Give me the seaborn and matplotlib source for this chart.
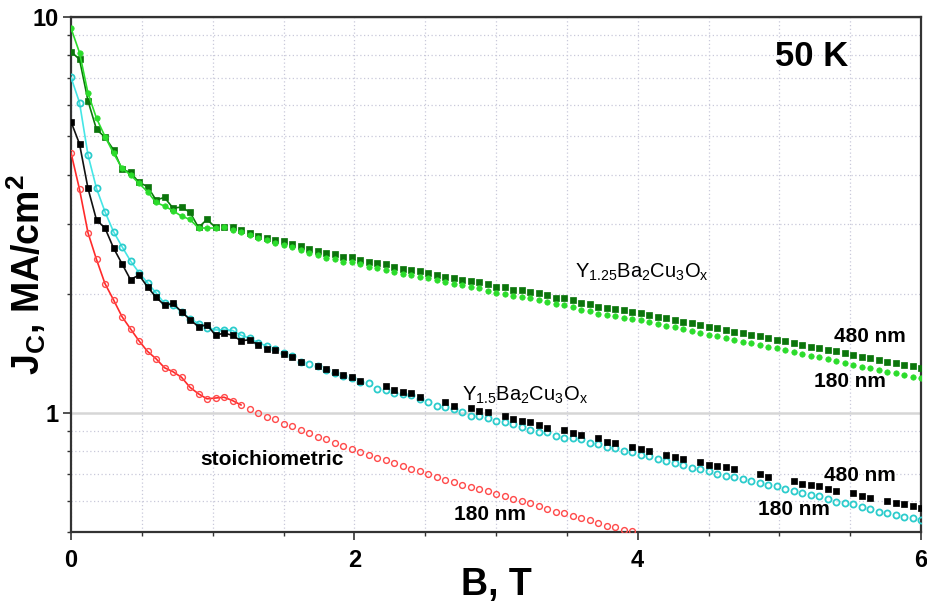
import numpy as np
import matplotlib
matplotlib.use("Agg")
import matplotlib.pyplot as plt
from matplotlib.ticker import NullFormatter
import seaborn as sns

plt.rcParams["font.family"] = ["Liberation Sans", "DejaVu Sans"]
plt.rcParams["mathtext.fontset"] = "custom"
plt.rcParams["mathtext.rm"] = "Liberation Sans"
plt.rcParams["mathtext.bf"] = "Liberation Sans:bold"
plt.rcParams["mathtext.it"] = "Liberation Sans:italic"

# field sweep (T), one reading every 0.06 T
field = np.round(np.arange(101) * 0.06, 2)

# Jc (MA/cm2) at 50 K
y125_480 = [8.17, 7.82, 6.14, 5.20, 4.97, 4.62, 4.12, 4.05, 3.82, 3.73,
            3.45, 3.50, 3.29, 3.31, 3.21, 2.94, 3.08, 2.94, 2.95, 2.94,
            2.90, 2.85, 2.79, 2.77, 2.73, 2.71, 2.67, 2.645, 2.59, 2.57,
            2.53, 2.52, 2.48, 2.47, 2.435, 2.41, 2.39, 2.37, 2.34, 2.31,
            2.30, 2.28, 2.26, 2.23, 2.21, 2.195, 2.17, 2.155, 2.14, 2.11,
            2.08, 2.075, 2.045, 2.04, 2.025, 2.005, 1.98, 1.955, 1.95, 1.93,
            1.89, 1.88, 1.856, 1.84, 1.83, 1.815, 1.80, 1.787, 1.77, 1.75,
            1.735, 1.72, 1.70, 1.685, 1.67, 1.65, 1.64, 1.62, 1.605, 1.59,
            1.575, 1.56, 1.545, 1.53, 1.515, 1.50, 1.485, 1.47, 1.455, 1.44,
            1.43, 1.415, 1.40, 1.385, 1.375, 1.36, 1.345, 1.335, 1.32, 1.31, 1.30]

y125_180 = [9.37, 8.13, 6.42, 5.55, 4.99, 4.53, 4.15, 3.99, 3.80, 3.62,
            3.40, 3.33, 3.24, 3.14, 3.08, 2.93, 2.93, 2.93, 2.94, 2.90,
            2.86, 2.82, 2.77, 2.73, 2.69, 2.66, 2.62, 2.58, 2.53, 2.51,
            2.46, 2.45, 2.41, 2.40, 2.37, 2.34, 2.32, 2.30, 2.27, 2.24,
            2.23, 2.21, 2.19, 2.16, 2.14, 2.12, 2.10, 2.08, 2.065, 2.035,
            2.005, 2.00, 1.97, 1.96, 1.95, 1.93, 1.90, 1.88, 1.87, 1.85,
            1.815, 1.805, 1.78, 1.765, 1.757, 1.74, 1.726, 1.712, 1.696, 1.675,
            1.66, 1.644, 1.625, 1.609, 1.595, 1.574, 1.565, 1.544, 1.53, 1.514,
            1.50, 1.484, 1.47, 1.454, 1.44, 1.424, 1.41, 1.394, 1.38, 1.364,
            1.354, 1.339, 1.324, 1.309, 1.30, 1.284, 1.27, 1.26, 1.245, 1.235, 1.226]

nan = np.nan
y15_480 = [5.44, 4.78, 3.69, 3.07, 2.93, 2.61, 2.38, 2.17, 2.23, 2.08,
           1.96, 1.87, 1.89, 1.80, 1.72, 1.65, 1.67, 1.57, 1.59, 1.57,
           1.52, 1.53, 1.485, 1.45, 1.44, 1.41, 1.38, 1.348, nan, 1.314,
           1.289, 1.267, 1.247, 1.235, 1.206, nan, nan, 1.170, 1.143, 1.132,
           1.125, 1.099, nan, nan, 1.064, 1.043, nan, 1.028, 1.013, 1.004,
           nan, 0.979, 0.964, 0.954, 0.947, 0.933, 0.915, nan, 0.906, 0.889,
           0.880, nan, 0.863, 0.843, 0.838, nan, 0.820, 0.811, 0.802, nan,
           0.783, 0.773, 0.764, nan, 0.753, 0.739, 0.732, 0.729, 0.722, nan,
           nan, 0.700, 0.688, nan, nan, 0.671, 0.661, 0.656, 0.652, 0.642,
           0.633, nan, 0.627, 0.615, 0.609, nan, 0.600, 0.592, 0.589, 0.583, 0.575]

y15_180 = [7.04, 6.08, 4.48, 3.69, 3.22, 2.87, 2.63, 2.42, 2.26, 2.13,
           2.01, 1.89, 1.87, 1.80, 1.73, 1.68, 1.64, 1.62, 1.62, 1.615,
           1.57, 1.544, 1.504, 1.476, 1.45, 1.42, 1.388, 1.345, 1.329, 1.31,
           1.285, 1.26, 1.24, 1.224, 1.195, 1.188, 1.15, 1.143, 1.121, 1.115,
           1.11, 1.083, 1.062, 1.041, 1.037, 1.023, 1.006, 0.983, 0.979, 0.973,
           0.954, 0.947, 0.936, 0.923, 0.906, 0.897, 0.893, 0.876, 0.866, 0.863,
           0.86, 0.838, 0.833, 0.822, 0.814, 0.802, 0.794, 0.783, 0.776, 0.765,
           0.756, 0.746, 0.739, 0.727, 0.721, 0.711, 0.701, 0.693, 0.688, 0.681,
           0.671, 0.665, 0.658, 0.652, 0.642, 0.635, 0.627, 0.621, 0.615, 0.607,
           0.597, 0.592, 0.589, 0.578, 0.571, 0.563, 0.558, 0.553, 0.547, 0.542, 0.535]

y_stoich_180 = [4.54, 3.67, 2.85, 2.44, 2.12, 1.93, 1.75, 1.63, 1.52, 1.43,
                1.37, 1.30, 1.27, 1.23, 1.16, 1.117, 1.085, 1.09, 1.095, 1.074,
                1.047, 1.02, 1.00, 0.975, 0.964, 0.938, 0.925, 0.904, 0.889, 0.871,
                0.858, 0.841, 0.825, 0.811, 0.796, 0.783, 0.769, 0.758, 0.749, 0.732,
                0.721, 0.711, 0.701, 0.688, 0.677, 0.667, 0.658, 0.649, 0.642, 0.636,
                0.624, 0.615, 0.605, 0.600, 0.592, 0.580, 0.571, 0.563, 0.558, 0.549,
                0.542, 0.535, 0.526, 0.519, 0.514, 0.506, 0.503]

fig = plt.figure(figsize=(9.27, 6.04), dpi=100)
ax = fig.add_axes([71 / 927, 1 - 532 / 604, 850 / 927, 515 / 604])


def draw(vals, n_line, line_color, mk_color, marker, ms, mfc, mew, z):
    y = np.array(vals, dtype=float)
    x = field[:len(y)]
    # low-field part is joined by a thin line, the rest is points only
    sns.lineplot(x=x[:n_line], y=y[:n_line], color=line_color, lw=1.2,
                 estimator=None, sort=False, legend=False, ax=ax, zorder=z)
    sns.lineplot(x=x, y=y, color=mk_color, marker=marker, markersize=ms,
                 markerfacecolor=mfc, markeredgecolor=mk_color, markeredgewidth=mew,
                 linestyle="none", estimator=None, sort=False, legend=False,
                 ax=ax, zorder=z + 0.5)


draw(y_stoich_180, 21, "#ff2a2a", "#ff4a4a", "o", 4.2, "none", 1.0, 3)
draw(y15_180, 24, "#45e6e6", "#2ccccc", "o", 4.4, "none", 1.3, 4)
draw(y15_480, 23, "#111111", "#000000", "s", 4.0, "#000000", 0.5, 5)
draw(y125_480, 18, "#0a7a0a", "#0b750b", "s", 5.0, "#0b750b", 0.5, 6)
draw(y125_180, 18, "#2bdc2b", "#2bdc2b", "o", 3.9, "#2bdc2b", 0.5, 7)

ax.set_yscale("log")
ax.set_xlim(0, 6)
ax.set_ylim(0.5, 10)

ax.set_xticks([0, 2, 4, 6])
ax.set_xticklabels(["0", "2", "4", "6"])
ax.set_xticks([0.5, 1, 1.5, 2.5, 3, 3.5, 4.5, 5, 5.5], minor=True)
ax.set_yticks([1, 10])
ax.set_yticklabels(["1", "10"])
ax.set_yticks([0.5, 0.6, 0.7, 0.8, 0.9, 2, 3, 4, 5, 6, 7, 8, 9], minor=True)
ax.yaxis.set_minor_formatter(NullFormatter())

ax.grid(True, which="both", color="#c9c9da", linestyle=(0, (1, 2)), lw=0.9)
ax.grid(True, which="major", axis="y", color="#d6d6d6", linestyle="-", lw=1.8)
ax.set_axisbelow(True)

for sp in ax.spines.values():
    sp.set_color("#333333")
    sp.set_linewidth(1.6)

ax.tick_params(axis="both", which="major", direction="out", length=6, width=1.2,
               colors="#333333", labelcolor="black", labelsize=17, pad=3)
ax.tick_params(axis="x", which="major", pad=6)
ax.tick_params(axis="both", which="minor", direction="out", length=3, width=1.0,
               colors="#333333")
for lab in ax.get_xticklabels() + ax.get_yticklabels():
    lab.set_fontweight("bold")

ax.set_xlabel("B, T", fontsize=27, fontweight="bold")
ax.xaxis.set_label_coords(0.5, -0.068)
ax.set_ylabel(r"J$_{\mathbf{C}}$, MA/cm$^{\mathbf{2}}$", fontsize=27, fontweight="bold")
ax.yaxis.set_label_coords(-0.027, 0.5)

ax.text(5.23, 7.93, "50 K", fontsize=25, fontweight="bold", ha="center", va="center")
ax.text(3.56, 2.27, r"$\mathrm{Y_{1.25}Ba_{2}Cu_{3}O_{x}}$", fontsize=14.5,
        ha="left", va="center")
ax.text(2.76, 1.11, r"$\mathrm{Y_{1.5}Ba_{2}Cu_{3}O_{x}}$", fontsize=14.5,
        ha="left", va="center")
ax.text(5.64, 1.555, "480 nm", fontsize=15, fontweight="bold", ha="center", va="center")
ax.text(5.50, 1.198, "180 nm", fontsize=15, fontweight="bold", ha="center", va="center")
ax.text(5.57, 0.693, "480 nm", fontsize=15, fontweight="bold", ha="center", va="center")
ax.text(5.10, 0.569, "180 nm", fontsize=15, fontweight="bold", ha="center", va="center")
ax.text(0.91, 0.761, "stoichiometric", fontsize=15, fontweight="bold", ha="left", va="center")
ax.text(2.96, 0.553, "180 nm", fontsize=15, fontweight="bold", ha="center", va="center")

fig.savefig("out.png", dpi=100)
